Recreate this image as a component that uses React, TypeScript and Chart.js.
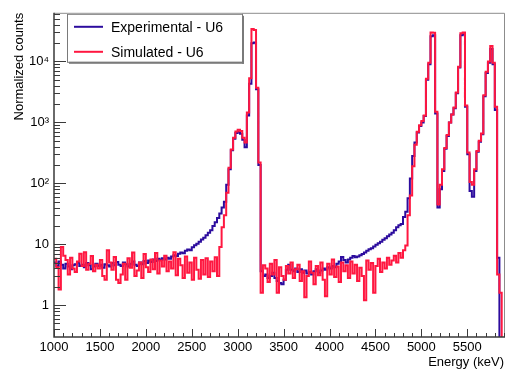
import React, { useEffect, useRef } from 'react';
import { Chart, registerables } from 'chart.js';

Chart.register(...registerables);

// Histogram binning (keV)
const BIN_START = 1000;
const BIN_WIDTH = 25;
const X_MIN = 1000;
const X_MAX = 5900;
const Y_MIN = 0.31;
const Y_MAX = 63000;

const X_TICKS = [1000, 1500, 2000, 2500, 3000, 3500, 4000, 4500, 5000, 5500];
const Y_TICKS = [1, 10, 100, 1000, 10000];
const Y_TICK_LABELS = ['1', '10', '10²', '10³', '10⁴'];

const SERIES_LABELS = ['Experimental - U6', 'Simulated - U6'];
const SERIES_COLORS = ['#2c0c9e', '#ff1740'];

// Experimental counts per 25 keV bin, 1000 .. 5875 keV
const experimental = [
  // 1000 - 1975
  5.0, 4.4, 5.2, 4.6, 4.0, 4.8, 4.3, 3.9, 4.5, 4.7,
  5.0, 4.4, 4.6, 4.2, 4.9, 4.5, 3.9, 4.3, 4.8, 4.4,
  4.6, 4.1, 4.7, 4.5, 4.3, 4.9, 4.5, 5.1, 4.6, 4.4,
  5.0, 4.7, 4.3, 4.8, 5.2, 4.6, 4.4, 5.0, 4.7, 5.3,
  // 2000 - 2975
  4.9, 5.4, 5.1, 5.6, 5.3, 5.8, 5.5, 5.9, 5.6, 6.0,
  5.8, 6.3, 6.6, 6.4, 7.0, 7.3, 7.1, 7.8, 8.2, 8.0,
  8.9, 9.6, 10.2, 11.0, 12.0, 12.8, 14.0, 15.5, 17.0, 20.0,
  23.0, 27.0, 32, 40, 50, 95, 170, 350, 540, 670,
  // 3000 - 3975
  700, 650, 520, 390, 1300, 4300, 20000, 20500, 3500, 200,
  3.6, 3.0, 3.2, 2.8, 3.0, 3.4, 2.8, 2.5, 2.3, 2.2,
  2.6, 3.8, 4.6, 3.8, 3.6, 4.0, 3.5, 3.9, 3.4, 3.7,
  3.3, 3.5, 3.2, 3.6, 3.9, 3.4, 3.7, 4.0, 3.8, 4.2,
  // 4000 - 4975
  4.0, 4.4, 4.2, 4.8, 5.2, 6.2, 5.5, 5.0, 5.6, 6.0,
  6.4, 6.1, 6.3, 6.6, 6.9, 7.3, 7.8, 8.3, 8.6, 9.2,
  9.8, 10.4, 11.0, 11.8, 12.5, 13.5, 14.5, 15.5, 17.0, 19.0,
  20.5, 21.5, 28, 34, 57, 120, 280, 470, 680, 870,
  // 5000 - 5875
  1000, 1270, 5000, 9000, 26000, 27000, 1400, 40, 80, 160,
  370, 600, 1000, 1350, 1700, 3000, 8000, 27000, 28000, 1800,
  300, 75, 60, 160, 330, 480, 640, 2700, 6500, 9500,
  16000, 9000, 1600, 6, 0.01, 0.01,
];

// Simulated counts per 25 keV bin, 1000 .. 5875 keV
const simulated = [
  // 1000 - 1975
  5.8, 4.2, 1.8, 9.0, 6.5, 5.5, 3.2, 6.0, 4.0, 3.5,
  5.2, 7.0, 4.4, 7.4, 3.8, 4.8, 6.4, 3.6, 4.6, 4.0,
  5.5, 3.0, 2.6, 8.0, 5.0, 3.8, 6.2, 2.6, 2.3, 3.2,
  4.8, 2.6, 5.9, 4.1, 7.3, 3.0, 3.7, 5.0, 2.8, 6.9,
  // 2000 - 2975
  4.2, 3.5, 5.6, 3.9, 7.2, 3.3, 5.4, 4.3, 6.5, 3.6,
  5.2, 4.0, 7.4, 3.1, 5.8, 4.5, 2.8, 6.3, 3.4, 5.0,
  2.6, 6.0, 3.8, 2.7, 5.5, 3.2, 5.9, 2.9, 5.2, 3.6,
  6.1, 3.0, 9.0, 19, 30, 70, 180, 360, 560, 710,
  // 3000 - 3975
  760, 720, 560, 470, 1450, 5300, 34000, 33000, 3700, 220,
  1.6, 4.5, 4.0, 2.4, 4.8, 3.2, 5.5, 1.6, 4.2, 3.0,
  2.6, 4.4, 3.3, 5.0, 2.8, 3.9, 4.6, 2.5, 3.6, 1.35,
  3.0, 5.2, 3.4, 2.2, 4.4, 3.1, 5.0, 2.6, 1.4, 4.8,
  // 4000 - 4975
  3.2, 5.6, 2.9, 4.3, 2.4, 5.0, 3.6, 4.5, 2.8, 5.2,
  3.3, 4.6, 2.5, 4.1, 3.0, 1.2, 5.4, 3.8, 4.9, 1.6,
  4.4, 5.8, 3.5, 5.0, 4.0, 6.0, 4.6, 5.4, 6.5, 5.0,
  7.2, 6.0, 8.0, 9.5, 30, 63, 190, 430, 700, 900,
  // 5000 - 5875
  1050, 1300, 5200, 9500, 30000, 29500, 1500, 45, 95, 170,
  380, 620, 1000, 1350, 1750, 3100, 8200, 29000, 30000, 1900,
  320, 105, 95, 170, 340, 500, 660, 2800, 6800, 10000,
  18000, 9500, 1800, 3.2, 1.6, 0.01,
];

const FONT = "'Liberation Sans', Arial, Helvetica, sans-serif";

function toSteps(values: number[]) {
  const pts = values.map((v, i) => ({ x: BIN_START + i * BIN_WIDTH, y: v }));
  pts.push({ x: BIN_START + values.length * BIN_WIDTH, y: values[values.length - 1] });
  return pts;
}

const rootAxesPlugin = {
  id: 'rootAxes',
  afterDraw(chart: any) {
    const { ctx, chartArea } = chart;
    const { left, right, top, bottom } = chartArea;
    const xs = chart.scales.x;
    const ys = chart.scales.y;
    ctx.save();
    // frame top / right
    ctx.strokeStyle = '#8c8c8c';
    ctx.lineWidth = 1;
    ctx.beginPath();
    ctx.moveTo(left, top + 0.5);
    ctx.lineTo(right + 0.5, top + 0.5);
    ctx.lineTo(right + 0.5, bottom);
    ctx.stroke();
    // axes
    ctx.strokeStyle = '#3a3a3a';
    ctx.lineWidth = 1.5;
    ctx.beginPath();
    ctx.moveTo(left, top);
    ctx.lineTo(left, bottom);
    ctx.lineTo(right + 1, bottom);
    ctx.stroke();
    // x ticks
    ctx.lineWidth = 1;
    ctx.beginPath();
    for (let v = X_MIN; v <= X_MAX; v += 100) {
      const px = Math.round(xs.getPixelForValue(v)) + 0.5;
      const len = (v - X_MIN) % 500 === 0 ? 8 : 4;
      ctx.moveTo(px, bottom);
      ctx.lineTo(px, bottom - len);
    }
    // y ticks
    for (let k = -1; k <= 4; k++) {
      for (let m = 1; m <= 9; m++) {
        const v = m * Math.pow(10, k);
        if (v < Y_MIN || v > Y_MAX) continue;
        const py = Math.round(ys.getPixelForValue(v)) + 0.5;
        const len = m === 1 ? 12 : 6;
        ctx.moveTo(left, py);
        ctx.lineTo(left + len, py);
      }
    }
    ctx.stroke();

    // legend box
    const bx = left + 13;
    const by = top + 1;
    const bw = 175;
    const bh = 48;
    ctx.fillStyle = '#ffffff';
    ctx.fillRect(bx, by, bw, bh);
    ctx.strokeStyle = '#7a7a7a';
    ctx.lineWidth = 1;
    ctx.strokeRect(bx + 0.5, by + 0.5, bw, bh);
    ctx.fillStyle = '#7a7a7a';
    ctx.fillRect(bx + bw, by + 2, 2, bh);
    ctx.fillRect(bx + 2, by + bh, bw, 2);
    chart.data.datasets.forEach((ds: any, i: number) => {
      const ly = by + 13 + i * 25;
      ctx.strokeStyle = ds.borderColor;
      ctx.lineWidth = 2;
      ctx.beginPath();
      ctx.moveTo(bx + 7, ly);
      ctx.lineTo(bx + 36, ly);
      ctx.stroke();
      ctx.fillStyle = '#000';
      ctx.font = `14px ${FONT}`;
      ctx.textBaseline = 'middle';
      ctx.textAlign = 'left';
      ctx.fillText(ds.label, bx + 44, ly + 1);
    });
    ctx.restore();
  },
};

export default function App() {
  const ref = useRef<HTMLCanvasElement | null>(null);
  useEffect(() => {
    if (!ref.current) return;
    const chart = new Chart(ref.current, {
      type: 'line',
      data: {
        datasets: [
          {
            label: SERIES_LABELS[0],
            data: toSteps(experimental),
            borderColor: SERIES_COLORS[0],
            borderWidth: 2,
            pointRadius: 0,
            stepped: 'before',
            fill: false,
            order: 1,
          },
          {
            label: SERIES_LABELS[1],
            data: toSteps(simulated),
            borderColor: SERIES_COLORS[1],
            borderWidth: 2,
            pointRadius: 0,
            stepped: 'before',
            fill: false,
            order: 0,
          },
        ],
      },
      options: {
        animation: false,
        responsive: false,
        devicePixelRatio: 1,
        parsing: false,
        normalized: true,
        layout: { padding: { left: 0, top: 12, right: 5, bottom: 0 } },
        plugins: { legend: { display: false }, tooltip: { enabled: false } },
        scales: {
          x: {
            type: 'linear',
            min: X_MIN,
            max: X_MAX,
            grid: { display: false, drawTicks: false },
            border: { display: false },
            afterBuildTicks: (s: any) => {
              s.ticks = X_TICKS.map((v) => ({ value: v }));
            },
            afterFit: (s: any) => {
              s.height = 33;
            },
            ticks: {
              autoSkip: false,
              maxRotation: 0,
              padding: 3,
              color: '#000',
              font: { family: FONT, size: 13 },
              callback: (v: any) => String(v),
            },
            title: {
              display: true,
              text: 'Energy (keV)',
              align: 'end',
              color: '#000',
              font: { family: FONT, size: 13 },
              padding: 0,
            },
          },
          y: {
            type: 'logarithmic',
            min: Y_MIN,
            max: Y_MAX,
            grid: { display: false, drawTicks: false },
            border: { display: false },
            afterBuildTicks: (s: any) => {
              s.ticks = Y_TICKS.map((v) => ({ value: v }));
            },
            afterFit: (s: any) => {
              s.width = 54;
            },
            ticks: {
              autoSkip: false,
              padding: 5,
              color: '#000',
              font: { family: FONT, size: 13 },
              callback: (v: any) => {
                const i = Y_TICKS.indexOf(Number(v));
                return i >= 0 ? Y_TICK_LABELS[i] : '';
              },
            },
            title: {
              display: true,
              text: 'Normalized counts',
              align: 'end',
              color: '#000',
              font: { family: FONT, size: 13 },
              padding: { top: 12, bottom: 0 },
            },
          },
        },
      },
      plugins: [rootAxesPlugin],
    } as any);
    return () => chart.destroy();
  }, []);
  return (
    <div style={{ position: 'absolute', left: 0, top: 0, width: 509, height: 370, background: '#fff' }}>
      <canvas ref={ref} width={509} height={370} style={{ display: 'block' }} />
    </div>
  );
}
